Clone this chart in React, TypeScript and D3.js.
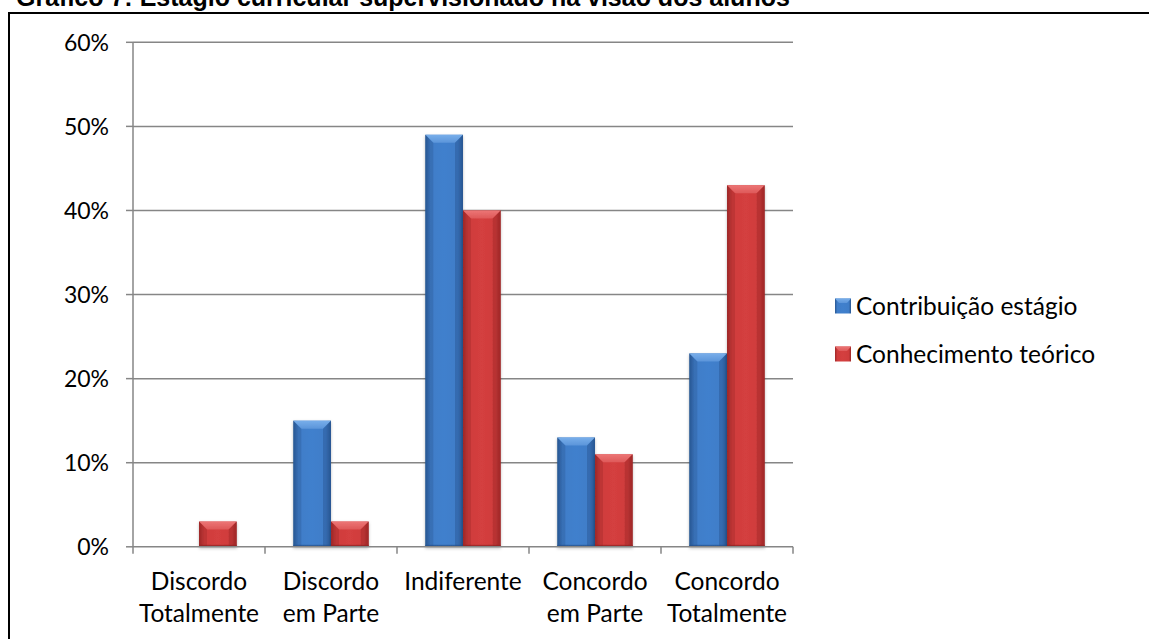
import React from "react";
import * as d3 from "d3";

const categories = [
  ["Discordo", "Totalmente"],
  ["Discordo", "em Parte"],
  ["Indiferente"],
  ["Concordo", "em Parte"],
  ["Concordo", "Totalmente"],
];
const seriesNames = ["Contribuição estágio", "Conhecimento teórico"];
const contribuicao = [0, 0.15, 0.49, 0.13, 0.23];
const conhecimento = [0.03, 0.03, 0.4, 0.11, 0.43];
const yTicks = [0, 0.1, 0.2, 0.3, 0.4, 0.5, 0.6];
const title = "Gráfico 7: Estágio curricular supervisionado na visão dos alunos";

const W = 1149;
const H = 639;
const plot = { left: 133, right: 793, top: 42.3, bottom: 546.8 };
const FONT = "Lato, 'Open Sans', sans-serif";
const GRID = "#868686";

const palettes = [
  { id: "blue", edge: "#295792", mid: "#4080CD", light: "#3F7DC8", top: "#78AEEA", topDark: "#5B95DA", bottom: "#25508A" },
  { id: "red", edge: "#9E2828", mid: "#D43F3F", light: "#CF3C3C", top: "#EC7676", topDark: "#DE5858", bottom: "#8E2323" },
];

function Bar({ x, y, w, h, p }: { x: number; y: number; w: number; h: number; p: typeof palettes[number] }) {
  if (h <= 0) return null;
  const b = Math.min(8, h / 2, w / 4);
  const x1 = x + w;
  const y1 = y + h;
  return (
    <g filter="url(#barShadow)">
      <rect x={x} y={y} width={w} height={h} fill={`url(#body-${p.id})`} />
      <polygon
        points={`${x},${y} ${x1},${y} ${x1 - b},${y + b} ${x + b},${y + b}`}
        fill={`url(#top-${p.id})`}
      />
      <polygon points={`${x},${y} ${x + b},${y + b} ${x + b},${y1} ${x},${y1}`} fill={p.edge} opacity={0.35} />
      <polygon points={`${x1},${y} ${x1 - b},${y + b} ${x1 - b},${y1} ${x1},${y1}`} fill={p.edge} opacity={0.45} />
      <rect x={x} y={y1 - 2} width={w} height={2} fill={p.bottom} opacity={0.7} />
    </g>
  );
}

export default function App() {
  const yScale = d3.scaleLinear().domain([0, 0.6]).range([plot.bottom, plot.top]);
  const x0 = d3
    .scaleBand<number>()
    .domain(categories.map((_, i) => i))
    .range([plot.left, plot.right])
    .padding(0);
  const x1 = d3
    .scaleBand<number>()
    .domain([0, 1])
    .range([0, x0.bandwidth()])
    .paddingInner(0)
    .paddingOuter(0.75);
  const values = [contribuicao, conhecimento];
  const catBoundaries = d3.range(categories.length + 1).map((i) => plot.left + i * x0.step());

  return (
    <svg
      width={W}
      height={H}
      viewBox={`0 0 ${W} ${H}`}
      style={{ position: "absolute", left: 0, top: 0, background: "#fff" }}
    >
      <defs>
        {palettes.map((p) => (
          <React.Fragment key={p.id}>
            <linearGradient id={`body-${p.id}`} x1="0" x2="1" y1="0" y2="0">
              <stop offset="0%" stopColor={p.edge} />
              <stop offset="14%" stopColor={p.light} />
              <stop offset="50%" stopColor={p.mid} />
              <stop offset="86%" stopColor={p.light} />
              <stop offset="100%" stopColor={p.edge} />
            </linearGradient>
            <linearGradient id={`top-${p.id}`} x1="0" x2="0" y1="0" y2="1">
              <stop offset="0%" stopColor={p.top} />
              <stop offset="100%" stopColor={p.topDark} />
            </linearGradient>
          </React.Fragment>
        ))}
        <filter id="barShadow" x="-20%" y="-20%" width="140%" height="140%">
          <feDropShadow dx="0" dy="1.5" stdDeviation="1.5" floodColor="#000" floodOpacity="0.25" />
        </filter>
      </defs>

      {/* page title, partly above the visible area */}
      <text x={16} y={6} fontFamily="'Liberation Sans', Arial, sans-serif" fontWeight="bold" fontSize={25} fill="#000">
        {title}
      </text>

      {/* chart frame */}
      <rect x={9} y={13} width={W + 20} height={H + 20} fill="none" stroke="#000" strokeWidth={2} />

      {/* gridlines and y axis labels */}
      {yTicks.map((t) => (
        <g key={t}>
          {t > 0 && (
            <line x1={plot.left} x2={plot.right} y1={yScale(t)} y2={yScale(t)} stroke={GRID} strokeWidth={1.5} />
          )}
          <line x1={plot.left - 7} x2={plot.left} y1={yScale(t)} y2={yScale(t)} stroke={GRID} strokeWidth={1.5} />
          <text
            x={109}
            y={yScale(t)}
            dy="0.36em"
            textAnchor="end"
            fontFamily={FONT}
            fontSize={23}
            fill="#000"
          >
            {d3.format(".0%")(t)}
          </text>
        </g>
      ))}

      {/* bars */}
      {categories.map((_, ci) =>
        values.map((vals, si) => {
          const v = vals[ci];
          const bx = (x0(ci) ?? 0) + (x1(si) ?? 0);
          const by = yScale(v);
          return <Bar key={`${ci}-${si}`} x={bx} y={by} w={x1.bandwidth()} h={yScale(0) - by} p={palettes[si]} />;
        })
      )}

      {/* axes */}
      <line x1={plot.left} x2={plot.left} y1={plot.top} y2={plot.bottom} stroke={GRID} strokeWidth={1.5} />
      <line x1={plot.left} x2={plot.right} y1={plot.bottom} y2={plot.bottom} stroke={GRID} strokeWidth={1.5} />
      {catBoundaries.map((bx, i) => (
        <line key={i} x1={bx} x2={bx} y1={plot.bottom} y2={plot.bottom + 7} stroke={GRID} strokeWidth={1.5} />
      ))}

      {/* category labels */}
      {categories.map((lines, ci) => (
        <text
          key={ci}
          x={(x0(ci) ?? 0) + x0.bandwidth() / 2}
          y={590}
          textAnchor="middle"
          fontFamily={FONT}
          fontSize={24.5}
          fill="#000"
        >
          {lines.map((l, li) => (
            <tspan key={li} x={(x0(ci) ?? 0) + x0.bandwidth() / 2} dy={li === 0 ? 0 : 32}>
              {l}
            </tspan>
          ))}
        </text>
      ))}

      {/* legend */}
      {seriesNames.map((name, si) => {
        const cy = 306 + si * 48;
        const p = palettes[si];
        return (
          <g key={name}>
            <rect x={835} y={cy - 7.5} width={16} height={15} fill={`url(#body-${p.id})`} />
            <polygon
              points={`${835},${cy - 7.5} ${851},${cy - 7.5} ${847},${cy - 3} ${839},${cy - 3}`}
              fill={`url(#top-${p.id})`}
            />
            <text x={856} y={cy} dy="0.36em" fontFamily={FONT} fontSize={24.5} fill="#000">
              {name}
            </text>
          </g>
        );
      })}
    </svg>
  );
}
